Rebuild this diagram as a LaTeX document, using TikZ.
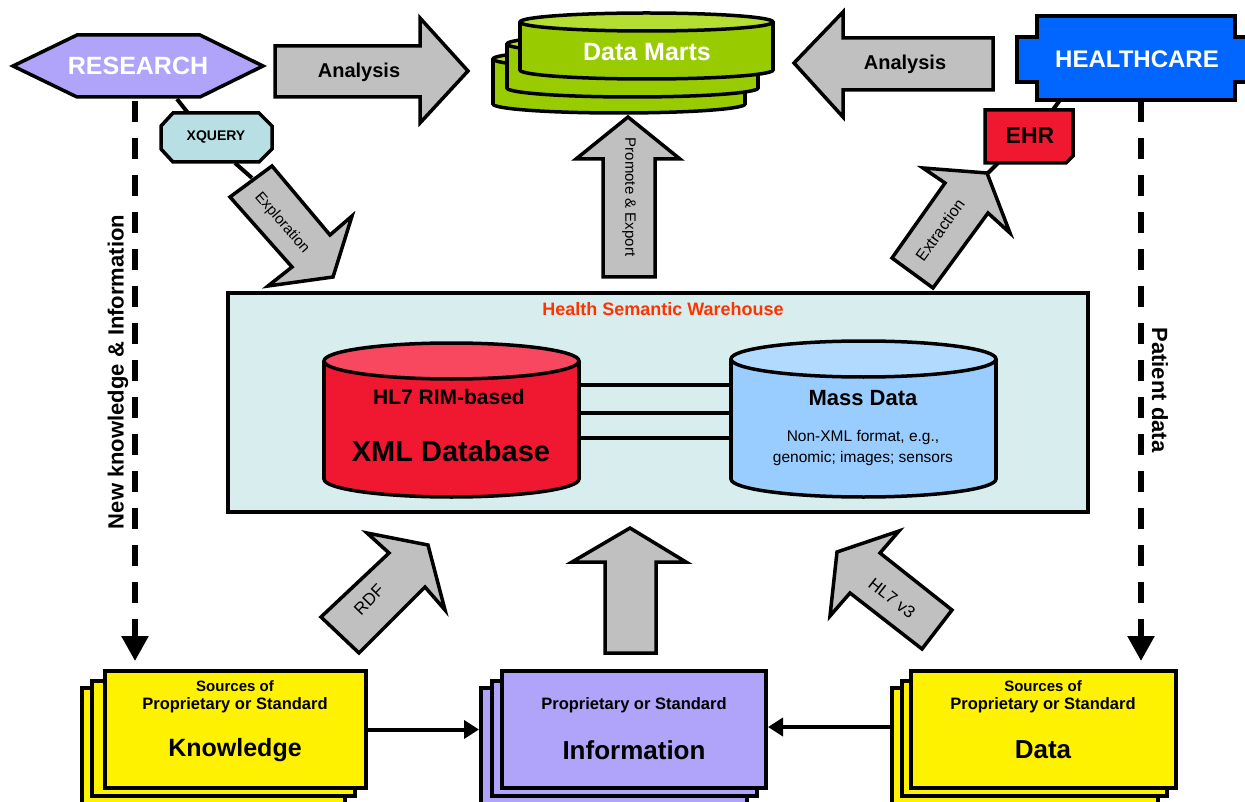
\documentclass[tikz,border=0pt]{standalone}
\usepackage{fontspec}
\setmainfont{Liberation Sans}
\usetikzlibrary{arrows.meta}
\definecolor{lav}{RGB}{175,163,250}
\definecolor{xqc}{RGB}{184,224,228}
\definecolor{dmside}{RGB}{153,204,0}
\definecolor{dmtop}{RGB}{180,222,50}
\definecolor{hcblue}{RGB}{0,102,255}
\definecolor{ehrred}{RGB}{240,24,48}
\definecolor{redtop}{RGB}{248,72,96}
\definecolor{bluside}{RGB}{153,204,255}
\definecolor{blutop}{RGB}{178,218,255}
\definecolor{agray}{RGB}{192,192,192}
\definecolor{whc}{RGB}{216,238,238}
\definecolor{ttl}{RGB}{255,51,0}
\newcommand\fs[1]{\fontsize{#1}{#1}\selectfont}
\newcommand\mycyl[7]{%
  \pgfmathsetmacro\cycx{(#1+#2)/2}\pgfmathsetmacro\cyrx{(#2-#1)/2}%
  \filldraw[fill=#6,outl] (\cycx,#4) ellipse [x radius=\cyrx, y radius=#5];
  \fill[#6] (#1,#3) rectangle (#2,#4);
  \draw[outl] (#1,#3) -- (#1,#4) (#2,#3) -- (#2,#4);
  \filldraw[fill=#7,outl] (\cycx,#3) ellipse [x radius=\cyrx, y radius=#5];
}
\begin{document}
\begin{tikzpicture}[x=1pt,y=1pt,
  outl/.style={draw=black,line width=3.5pt,line join=miter},
  garrow/.style={outl,fill=agray},
  conn/.style={draw=black,line width=4pt},
  dashconn/.style={draw=black,line width=5.5pt,dash pattern=on 21pt off 16pt,-{Triangle[length=25pt,width=26pt]}},
  harrow/.style={draw=black,line width=4pt,-{Triangle[length=15pt,width=18pt]}},
  boxl/.style={outl,line width=4pt,inner sep=0pt},
  lbl/.style={inner sep=0pt}]
\useasboundingbox[fill=white] (0,0) rectangle (1245,-802);

% ---------- coordinates for connectors
\coordinate (rs-b) at (177,-99);
\coordinate (xq-t) at (188,-113);
\coordinate (xq-b) at (235,-163);
\coordinate (ex-t) at (252,-178);
\coordinate (hc-b) at (1060,-100);
\coordinate (ehr-t) at (1052,-111);
\coordinate (ehr-b) at (998,-163);
\coordinate (et-t) at (988,-173);
\coordinate (lds) at (135,-101);
\coordinate (lde) at (135,-661);
\coordinate (rds) at (1141,-101);
\coordinate (rde) at (1141,-661);

% ---------- short connectors
\draw[conn] (rs-b) -- (xq-t);
\draw[conn] (xq-b) -- (ex-t);
\draw[conn] (hc-b) -- (ehr-t);
\draw[conn] (ehr-b) -- (et-t);

% ---------- RESEARCH
\filldraw[outl,fill=lav] (13,-66) -- (77,-35) -- (200,-35) -- (263,-66) -- (200,-97) -- (77,-97) -- cycle;
\node[lbl,text=white,font=\bfseries\fs{25}] (research) at (138,-66) {RESEARCH};

% ---------- XQUERY
\filldraw[outl,fill=xqc] (173,-113) -- (259,-113) -- (272,-126) -- (272,-149) -- (259,-162) -- (173,-162) -- (161,-149) -- (161,-126) -- cycle;
\node[lbl,font=\bfseries\fs{14}] (xquery) at (216,-137) {XQUERY};

% ---------- Analysis (right)
\filldraw[garrow] (275,-46) -- (420,-46) -- (420,-18) -- (468,-71) -- (420,-123) -- (420,-97) -- (275,-97) -- cycle;
\node[lbl,font=\bfseries\fs{20}] (an1) at (359,-72) {Analysis};

% ---------- Exploration
\filldraw[garrow] (230,-197) -- (292,-267) -- (268,-286) -- (333,-277) -- (352,-216) -- (330,-235) -- (272,-166) -- cycle;
\node[lbl,font=\fs{15},rotate=-49] (explo) at (282,-223) {Exploration};

% ---------- Data Marts
\mycyl{493}{745}{-59}{-104}{9}{dmside}{dmtop}
\mycyl{507}{758}{-44}{-88}{9}{dmside}{dmtop}
\mycyl{520}{773}{-22}{-70}{9}{dmside}{dmtop}
\node[lbl,text=white,font=\bfseries\fs{25}] (dm) at (647,-52) {Data Marts};

% ---------- Promote & Export
\filldraw[garrow] (603,-277) -- (603,-159) -- (576,-159) -- (628,-117) -- (680,-159) -- (655,-159) -- (655,-277) -- cycle;
\node[lbl,font=\fs{15},rotate=-90] (pe) at (629,-197) {Promote \& Export};

% ---------- Analysis (left)
\filldraw[garrow] (993,-38) -- (843,-38) -- (843,-12) -- (794,-63) -- (843,-117) -- (843,-90) -- (993,-90) -- cycle;
\node[lbl,font=\bfseries\fs{20}] (an2) at (905,-64) {Analysis};

% ---------- HEALTHCARE
\filldraw[outl,fill=hcblue] (1037,-16) -- (1235,-16) -- (1235,-37) -- (1250,-37) -- (1250,-82) -- (1235,-82) -- (1235,-100) -- (1037,-100) -- (1037,-82) -- (1017,-82) -- (1017,-37) -- (1037,-37) -- cycle;
\node[lbl,text=white,font=\bfseries\fs{24}] (hc) at (1137,-59) {HEALTHCARE};

% ---------- EHR
\filldraw[outl,fill=ehrred] (985,-110) -- (1073,-110) -- (1073,-156) -- (1066,-163) -- (985,-163) -- cycle;
\node[lbl,font=\bfseries\fs{23}] (ehr) at (1030,-136) {EHR};

% ---------- Extraction
\filldraw[garrow] (892,-258) -- (933,-288) -- (988,-213) -- (1010,-233) -- (987,-173) -- (923,-168) -- (945,-183) -- cycle;
\node[lbl,font=\fs{16},rotate=54] (extr) at (940,-230) {Extraction};

% ---------- Warehouse
\node[boxl,fill=whc,minimum width=860pt,minimum height=219pt] (wh) at (658,-402.5) {};
\node[lbl,text=ttl,font=\bfseries\fs{18}] (whtitle) at (663,-309) {Health Semantic Warehouse};

\draw[conn] (579,-385) -- (731,-385);
\draw[conn] (579,-413) -- (731,-413);
\draw[conn] (579,-438) -- (731,-438);

\mycyl{324}{579}{-361}{-479}{18}{ehrred}{redtop}
\mycyl{731}{996}{-359}{-479}{18}{bluside}{blutop}
\node[lbl,font=\bfseries\fs{21}] (hl7) at (449,-397) {HL7 RIM-based};
\node[lbl,font=\bfseries\fs{29}] (xmldb) at (451,-451) {XML Database};
\node[lbl,font=\bfseries\fs{22}] (mass) at (863,-398) {Mass Data};
\node[lbl,font=\fs{15.5}] (nonxml) at (863,-437) {Non-XML format, e.g.,};
\node[lbl,font=\fs{15.5}] (genom) at (863,-458) {genomic; images; sensors};

% ---------- dashed side connectors
\draw[dashconn] (lds) -- (lde);
\draw[dashconn] (rds) -- (rde);
\node[lbl,font=\bfseries\fs{22},rotate=90] (newk) at (118,-372) {New knowledge \& Information};
\node[lbl,font=\bfseries\fs{22},rotate=-90] (pat) at (1160,-390) {Patient data};

% ---------- gray arrows into warehouse
\filldraw[garrow] (605,-653) -- (605,-562) -- (572,-562) -- (630,-528) -- (686,-562) -- (656,-562) -- (656,-653) -- cycle;
\filldraw[garrow] (321,-617) -- (359,-653) -- (425,-587) -- (445,-610) -- (428,-545) -- (367,-533) -- (389,-553) -- cycle;
\node[lbl,font=\fs{17},rotate=46] (rdf) at (369,-600) {RDF};
\filldraw[garrow] (952,-610) -- (922,-649) -- (850,-593) -- (830,-616) -- (837,-552) -- (899,-531) -- (880,-553) -- cycle;
\node[lbl,font=\fs{17},rotate=-38] (hl7v3) at (892,-598) {HL7 v3};

% ---------- bottom boxes
\node[boxl,fill=yellow,minimum width=263pt,minimum height=118pt] (k3) at (213.5,-747) {};
\node[boxl,fill=yellow,minimum width=263pt,minimum height=115pt] (k2) at (223.5,-738.5) {};
\node[boxl,fill=yellow,minimum width=261pt,minimum height=117pt] (know) at (235.5,-729.5) {};
\node[lbl,font=\bfseries\fs{15}] (k-a) at (235,-686) {Sources of};
\node[lbl,font=\bfseries\fs{16.5}] (k-b) at (235,-705) {Proprietary or Standard};
\node[lbl,font=\bfseries\fs{25}] (k-c) at (235,-750) {Knowledge};

\node[boxl,fill=lav,minimum width=266pt,minimum height=118pt] (i3) at (614,-747) {};
\node[boxl,fill=lav,minimum width=265pt,minimum height=115pt] (i2) at (624.5,-738.5) {};
\node[boxl,fill=lav,minimum width=264pt,minimum height=117pt] (info) at (634,-729.5) {};
\node[lbl,font=\bfseries\fs{16.5}] (i-b) at (634,-705) {Proprietary or Standard};
\node[lbl,font=\bfseries\fs{26}] (i-c) at (634,-750) {Information};

\node[boxl,fill=yellow,minimum width=266pt,minimum height=118pt] (d3) at (1025,-747) {};
\node[boxl,fill=yellow,minimum width=265pt,minimum height=115pt] (d2) at (1034.5,-738.5) {};
\node[boxl,fill=yellow,minimum width=265pt,minimum height=117pt] (data) at (1043.5,-729.5) {};
\node[lbl,font=\bfseries\fs{15}] (d-a) at (1043,-686) {Sources of};
\node[lbl,font=\bfseries\fs{16.5}] (d-b) at (1043,-705) {Proprietary or Standard};
\node[lbl,font=\bfseries\fs{26}] (d-c) at (1043,-750) {Data};

\draw[harrow] (know.east) -- (know.east -| i3.west);
\draw[harrow] (d3.west |- 0,-727) -- (info.east |- 0,-727);
\end{tikzpicture}
\end{document}
